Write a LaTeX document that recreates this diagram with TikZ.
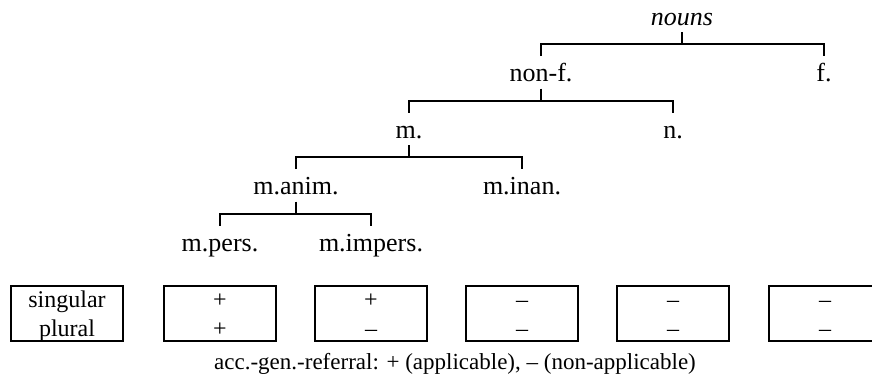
\documentclass[tikz,border=0pt]{standalone}
\usepackage{fontspec}
\setmainfont{Liberation Serif}
\usetikzlibrary{calc}

% parent -> two children: stem, crossbar and two legs
\newcommand\treefork[3]{%
  \draw[link] ($(#1.base)+(0,7)$) -- ($(#1.base)+(0,19)$);
  \draw[link] ($(#2.base)+(0,-25.5)$) |- ($(#1.base)+(0,19)$) -| ($(#3.base)+(0,-25.5)$);
}

\begin{document}
\begin{tikzpicture}[x=1pt,y=-1pt,
  lab/.style={anchor=base, inner sep=0pt, font=\fontsize{26}{30}\selectfont},
  link/.style={line width=2pt},
  cell/.style={draw, line width=2pt, minimum width=112pt, minimum height=55pt, inner sep=0pt},
  celltext/.style={anchor=base, inner sep=0pt, font=\fontsize{24}{28}\selectfont},
  note/.style={anchor=base, inner sep=0pt, font=\fontsize{23}{27}\selectfont}]
\useasboundingbox (0,0) rectangle (872,376);
\clip (0,0) rectangle (872,376);

% tree labels
\node[lab, font=\fontsize{26}{30}\selectfont\itshape] (nouns) at (682,25) {nouns};
\node[lab] (nonf)   at (541,81.5)  {non-f.};
\node[lab] (fem)    at (824,81.5)  {f.};
\node[lab] (masc)   at (409,138)   {m.};
\node[lab] (neut)   at (673,138)   {n.};
\node[lab] (anim)   at (296,194.5) {m.anim.};
\node[lab] (inan)   at (522,194.5) {m.inan.};
\node[lab] (pers)   at (220,251)   {m.pers.};
\node[lab] (impers) at (371,251)   {m.impers.};

% tree branches
\treefork{nouns}{nonf}{fem}
\treefork{nonf}{masc}{neut}
\treefork{masc}{anim}{inan}
\treefork{anim}{pers}{impers}

% table of cells
\node[cell] (box1) at (67,313.5)  {};
\node[cell] (box2) at (220,313.5) {};
\node[cell] (box3) at (371,313.5) {};
\node[cell] (box4) at (522,313.5) {};
\node[cell] (box5) at (673,313.5) {};
\node[cell] (box6) at (825,313.5) {};

\node[celltext] (sg) at (67,307) {singular};
\node[celltext] (pl) at (67,336) {plural};
\node[celltext] (a1) at (220,307) {+};
\node[celltext] (a2) at (220,336) {+};
\node[celltext] (b1) at (371,307) {+};
\node[celltext] (b2) at (371,336) {–};
\node[celltext] (c1) at (522,307) {–};
\node[celltext] (c2) at (522,336) {–};
\node[celltext] (d1) at (673,307) {–};
\node[celltext] (d2) at (673,336) {–};
\node[celltext] (e1) at (825,307) {–};
\node[celltext] (e2) at (825,336) {–};

% legend
\node[note] (legend) at (455,369) {acc.-gen.-referral: + (applicable), – (non-applicable)};
\end{tikzpicture}
\end{document}
